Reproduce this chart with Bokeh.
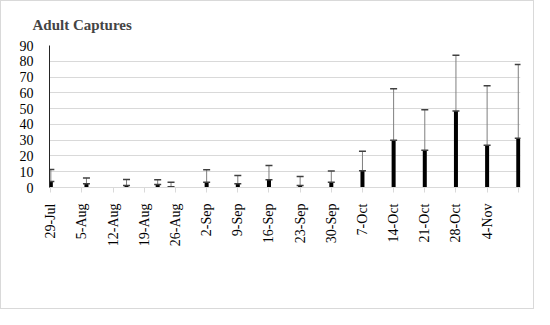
import math
import pandas as pd
from bokeh.plotting import figure
from bokeh.models import FixedTicker
from bokeh.embed import file_html
from bokeh.resources import INLINE

# ---- data ----
sample_dates = ["2019-07-29", "2019-08-06", "2019-08-15", "2019-08-22", "2019-08-25",
                "2019-09-02", "2019-09-09", "2019-09-16", "2019-09-23", "2019-09-30",
                "2019-10-07", "2019-10-14", "2019-10-21", "2019-10-28", "2019-11-04",
                "2019-11-11"]
mean_captures = [3.8, 2.3, 1.3, 1.9, 0.5, 3.4, 2.3, 4.9, 1.3, 3.4,
                 10.6, 30.0, 23.6, 48.5, 26.8, 31.2]
error_plus = [7.6, 3.8, 3.7, 3.0, 2.9, 7.8, 5.3, 9.1, 5.7, 7.0,
              12.4, 32.6, 25.6, 35.3, 37.7, 46.8]
tick_dates = ["2019-07-29", "2019-08-05", "2019-08-12", "2019-08-19", "2019-08-26",
              "2019-09-02", "2019-09-09", "2019-09-16", "2019-09-23", "2019-09-30",
              "2019-10-07", "2019-10-14", "2019-10-21", "2019-10-28", "2019-11-04",
              "2019-11-11"]
tick_labels = ["29-Jul", "5-Aug", "12-Aug", "19-Aug", "26-Aug", "2-Sep", "9-Sep",
               "16-Sep", "23-Sep", "30-Sep", "7-Oct", "14-Oct", "21-Oct", "28-Oct",
               "4-Nov", ""]
y_ticks = [0, 10, 20, 30, 40, 50, 60, 70, 80, 90]
title_text = "Adult Captures"

origin = pd.Timestamp(tick_dates[0])
x = [(pd.Timestamp(d) - origin).days for d in sample_dates]
tx = [(pd.Timestamp(d) - origin).days for d in tick_dates]
upper = [m + e for m, e in zip(mean_captures, error_plus)]

FONT = "Liberation Serif"

p = figure(width=534, height=309, output_backend="svg", toolbar_location=None,
           x_range=(-0.3, 105.5), y_range=(0, 90),
           min_border_left=48, min_border_right=15, min_border_top=44, min_border_bottom=123,
           styles={"border": "1px solid #d9d9d9"})
p.outline_line_color = None
p.background_fill_color = "white"
p.border_fill_color = "white"

p.title.text = title_text
p.title.text_font = FONT
p.title.text_font_size = "15px"
p.title.text_font_style = "bold"
p.title.align = "left"
p.title.offset = -17
p.title.standoff = 25

# grid
p.xgrid.visible = False
p.ygrid.ticker = FixedTicker(ticks=y_ticks)
p.ygrid.grid_line_color = "#d9d9d9"
p.ygrid.grid_line_width = 1

# y axis
p.yaxis.ticker = FixedTicker(ticks=y_ticks)
p.yaxis.axis_line_color = "#262626"
p.yaxis.axis_line_width = 1
p.yaxis.major_tick_line_color = None
p.yaxis.minor_tick_line_color = None
p.yaxis.major_label_text_font = FONT
p.yaxis.major_label_text_font_size = "14px"
p.yaxis.major_label_text_color = "black"
p.yaxis.major_label_standoff = 10

# x axis
p.xaxis.ticker = FixedTicker(ticks=tx)
p.xaxis.major_label_overrides = {t: lab for t, lab in zip(tx, tick_labels)}
p.xaxis.major_label_orientation = math.pi / 2
p.xaxis.axis_line_color = "#d9d9d9"
p.xaxis.major_tick_line_color = "#d9d9d9"
p.xaxis.major_tick_in = 0
p.xaxis.major_tick_out = 5
p.xaxis.minor_tick_line_color = None
p.xaxis.major_label_text_font = FONT
p.xaxis.major_label_text_font_size = "14px"
p.xaxis.major_label_text_color = "black"
p.xaxis.major_label_standoff = 11

# bars
p.vbar(x=x, top=mean_captures, bottom=0, width=0.9, fill_color="black", line_color=None)
# error bars
p.segment(x0=x, y0=mean_captures, x1=x, y1=upper, line_color="#7f7f7f", line_width=1)
p.scatter(x=x, y=upper, marker="dash", size=7, line_color="#404040", line_width=1.5)
p.scatter(x=x, y=mean_captures, marker="dash", size=7, line_color="#404040", line_width=1.5)

open("out.html", "w").write(file_html(p, INLINE))
